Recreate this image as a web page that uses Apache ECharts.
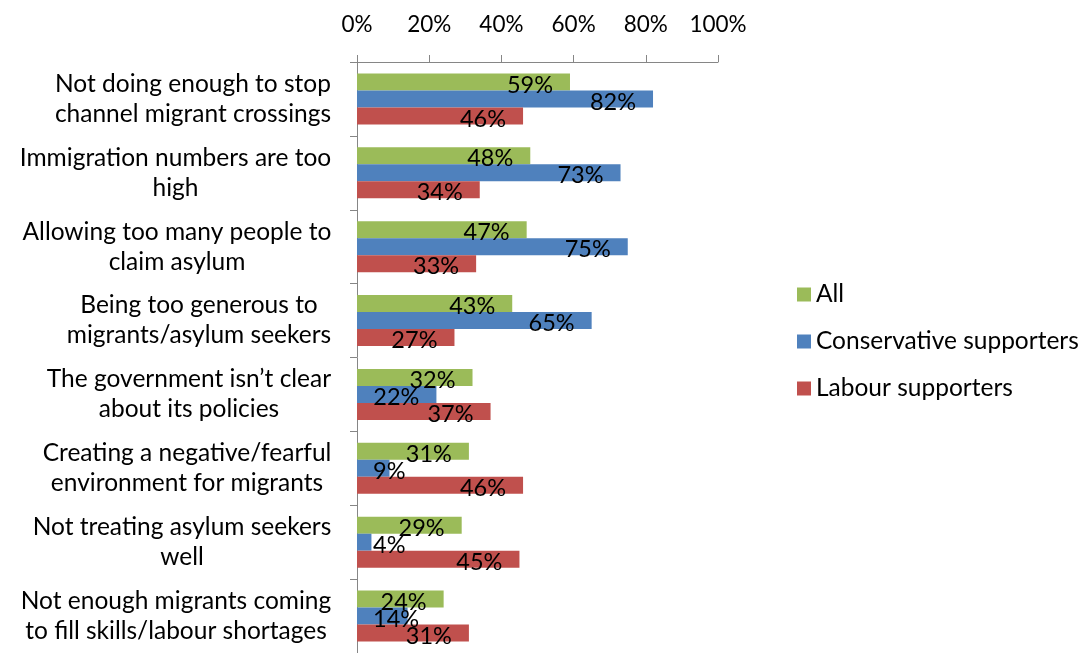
<!DOCTYPE html>
<html>
<head>
<meta charset="utf-8">
<script src="https://cdn.jsdelivr.net/npm/echarts@6/dist/echarts.min.js"></script>
<style>
  html, body { margin: 0; padding: 0; background: #fff; }
  #chart { width: 1080px; height: 653px; }
</style>
</head>
<body>
<div id="chart"></div>
<script>
const categories = [
  'Not doing enough to stop\nchannel migrant crossings',
  'Immigration numbers are too\nhigh',
  'Allowing too many people to\nclaim asylum',
  'Being too generous to\nmigrants/asylum seekers',
  'The government isn\u2019t clear\nabout its policies',
  'Creating a negative/fearful\nenvironment for migrants',
  'Not treating asylum seekers\nwell',
  'Not enough migrants coming\nto fill skills/labour shortages'
];
const seriesNames = ['All', 'Conservative supporters', 'Labour supporters'];
const allValues = [59, 48, 47, 43, 32, 31, 29, 24];
const conservativeValues = [82, 73, 75, 65, 22, 9, 4, 14];
const labourValues = [46, 34, 33, 27, 37, 46, 45, 31];
const xTicks = [0, 20, 40, 60, 80, 100];

const FONT = 'Lato';
const catFontSize = 24.5;

// width of the longest line of each category label, so every line can be centred within its block
const measureCtx = document.createElement('canvas').getContext('2d');
measureCtx.font = catFontSize + 'px ' + FONT;
const rich = {};
categories.forEach((c, i) => {
  const w = Math.max(...c.split('\n').map(l => measureCtx.measureText(l).width));
  rich['c' + i] = { width: Math.ceil(w) + 1, align: 'center', fontSize: catFontSize, fontFamily: FONT, color: '#000', lineHeight: 30 };
});

// value labels sit just inside the bar end; very short bars keep them near the axis
function barData(values) {
  return values.map(v => ({
    value: v,
    label: v < 16 ? { position: 'insideLeft', distance: 16 } : { position: 'insideRight', distance: 17 }
  }));
}

const colors = ['#9BBB59', '#4F81BD', '#C0504D'];
const valuesList = [allValues, conservativeValues, labourValues];

const chart = echarts.init(document.getElementById('chart'), null, { renderer: 'canvas' });
chart.setOption({
  animation: false,
  textStyle: { fontFamily: FONT },
  grid: { left: 357, top: 62, width: 361, height: 592, containLabel: false },
  legend: {
    orient: 'vertical',
    left: 792,
    top: 277,
    itemWidth: 14,
    itemHeight: 14,
    itemGap: 22,
    icon: 'rect',
    textStyle: { fontSize: 24.5, fontFamily: FONT, color: '#000', padding: [0, 0, 0, 0] },
    data: seriesNames
  },
  xAxis: {
    type: 'value',
    position: 'top',
    min: 0,
    max: 100,
    interval: 20,
    axisLine: { show: true, lineStyle: { color: '#868686', width: 1 } },
    axisTick: { show: true, inside: false, length: 7, lineStyle: { color: '#868686' } },
    splitLine: { show: false },
    axisLabel: {
      margin: 26,
      fontSize: 22.5,
      fontFamily: FONT,
      color: '#000',
      customValues: xTicks,
      formatter: v => v + '%'
    }
  },
  yAxis: {
    type: 'category',
    inverse: true,
    data: categories,
    axisLine: { show: true, lineStyle: { color: '#868686', width: 1 } },
    axisTick: { show: true, inside: false, length: 7, lineStyle: { color: '#868686' } },
    axisLabel: {
      margin: 25,
      align: 'right',
      formatter: (v, i) => '{c' + i + '|' + v + '}',
      rich: rich
    }
  },
  series: seriesNames.map((name, k) => ({
    name: name,
    type: 'bar',
    barGap: '0%',
    barCategoryGap: '31%',
    itemStyle: { color: colors[k] },
    label: {
      show: true,
      fontSize: 23.5,
      fontFamily: FONT,
      color: '#000',
      offset: [0, 3],
      formatter: p => p.value + '%'
    },
    data: barData(valuesList[k])
  }))
});
</script>
</body>
</html>
